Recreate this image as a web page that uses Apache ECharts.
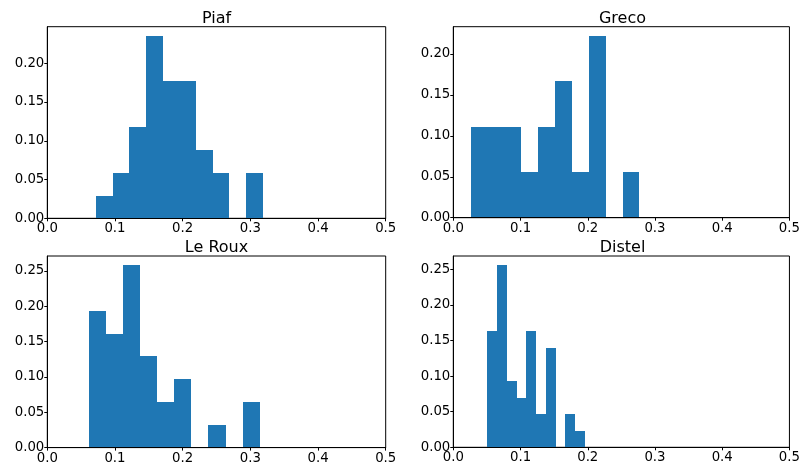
<!DOCTYPE html>
<html>
<head>
<meta charset="utf-8">
<script src="https://cdn.jsdelivr.net/npm/echarts@6/dist/echarts.min.js"></script>
<style>html,body{margin:0;padding:0;background:#fff;}#c{width:803px;height:466px;}</style>
</head>
<body>
<div id="c"></div>
<script>
// Panel titles
const titles = ['Piaf', 'Greco', 'Le Roux', 'Distel'];

// Bin edges
const piafEdges   = [0.0720, 0.0966, 0.1212, 0.1458, 0.1704, 0.1950, 0.2196, 0.2442, 0.2688, 0.2934, 0.3180];
const grecoEdges  = [0.0261, 0.0512, 0.0763, 0.1013, 0.1264, 0.1515, 0.1766, 0.2017, 0.2267, 0.2518, 0.2769];
const lerouxEdges = [0.0616, 0.0868, 0.1120, 0.1373, 0.1625, 0.1877, 0.2129, 0.2381, 0.2634, 0.2886, 0.3138];
const distelEdges = [0.0508, 0.0653, 0.0798, 0.0942, 0.1087, 0.1232, 0.1377, 0.1522, 0.1666, 0.1811, 0.1956];

// Bar heights (relative frequency)
const piafHeights   = [0.0294, 0.0588, 0.1176, 0.2353, 0.1765, 0.1765, 0.0882, 0.0588, 0, 0.0588];
const grecoHeights  = [0.1111, 0.1111, 0.1111, 0.0556, 0.1111, 0.1667, 0.0556, 0.2222, 0, 0.0556];
const lerouxHeights = [0.1935, 0.1613, 0.2581, 0.1290, 0.0645, 0.0968, 0, 0.0323, 0, 0.0645];
const distelHeights = [0.1628, 0.2558, 0.0930, 0.0698, 0.1628, 0.0465, 0.1395, 0, 0.0465, 0.0233];

// Axis ticks
const xTicks = [0.0, 0.1, 0.2, 0.3, 0.4, 0.5];
const yTicksTop = [0.00, 0.05, 0.10, 0.15, 0.20];
const yTicksBottom = [0.00, 0.05, 0.10, 0.15, 0.20, 0.25];
const yMaxes = [0.2471, 0.2334, 0.2710, 0.2686];

const edges = [piafEdges, grecoEdges, lerouxEdges, distelEdges];
const heights = [piafHeights, grecoHeights, lerouxHeights, distelHeights];
const yTicks = [yTicksTop, yTicksTop, yTicksBottom, yTicksBottom];

const FONT = 'DejaVu Sans';
const grids = [
  {left: 47.3, top: 26.7, width: 338.4, height: 191.6},
  {left: 453.3, top: 26.7, width: 338.4, height: 191.0},
  {left: 47.3, top: 256, width: 338.4, height: 191.6},
  {left: 453.3, top: 256, width: 338.4, height: 191.3}
];

const option = {
  animation: false,
  backgroundColor: '#fff',
  grid: grids.map(g => Object.assign({show: true, borderColor: '#000', borderWidth: 1, backgroundColor: 'transparent'}, g)),
  xAxis: grids.map((g, i) => ({
    type: 'value', gridIndex: i, min: 0, max: 0.5, interval: 0.1, z: 10,
    axisLine: {show: true, onZero: false, lineStyle: {color: '#000', width: 1}},
    axisTick: {show: true, length: 3, lineStyle: {color: '#000', width: 1}, customValues: xTicks},
    axisLabel: {show: true, customValues: xTicks, margin: 4, color: '#000', fontFamily: FONT, fontSize: 13.3,
      formatter: v => v.toFixed(1)},
    splitLine: {show: false}
  })),
  yAxis: grids.map((g, i) => ({
    type: 'value', gridIndex: i, min: 0, max: yMaxes[i], z: 10,
    axisLine: {show: true, onZero: false, lineStyle: {color: '#000', width: 1}},
    axisTick: {show: true, length: 3, lineStyle: {color: '#000', width: 1}, customValues: yTicks[i]},
    axisLabel: {show: true, customValues: yTicks[i], margin: 3, color: '#000', fontFamily: FONT, fontSize: 13.3,
      formatter: v => v.toFixed(2)},
    splitLine: {show: false}
  })),
  series: heights.map((hs, i) => ({
    type: 'custom', xAxisIndex: i, yAxisIndex: i, z: 2,
    encode: {x: [0, 1], y: 2},
    data: hs.map((h, k) => [edges[i][k], edges[i][k + 1], h]),
    renderItem: function (params, api) {
      const h = api.value(2);
      if (!h) return null;
      const p0 = api.coord([api.value(0), 0]);
      const p1 = api.coord([api.value(1), h]);
      const x0 = Math.round(p0[0]), x1 = Math.round(p1[0]);
      const yTop = Math.round(p1[1]), yBot = p0[1];
      return {
        type: 'rect',
        shape: {x: x0, y: yTop, width: x1 - x0, height: yBot - yTop},
        style: {fill: '#1f77b4'}
      };
    }
  })),
  graphic: titles.map((t, i) => ({
    type: 'text',
    x: grids[i].left + grids[i].width / 2,
    y: i < 2 ? 18.5 : 248.2,
    style: {text: t, font: '16px "DejaVu Sans"', fill: '#000', align: 'center', verticalAlign: 'middle'}
  }))
};

const chart = echarts.init(document.getElementById('c'), null, {renderer: 'canvas'});
chart.setOption(option);
</script>
</body>
</html>
